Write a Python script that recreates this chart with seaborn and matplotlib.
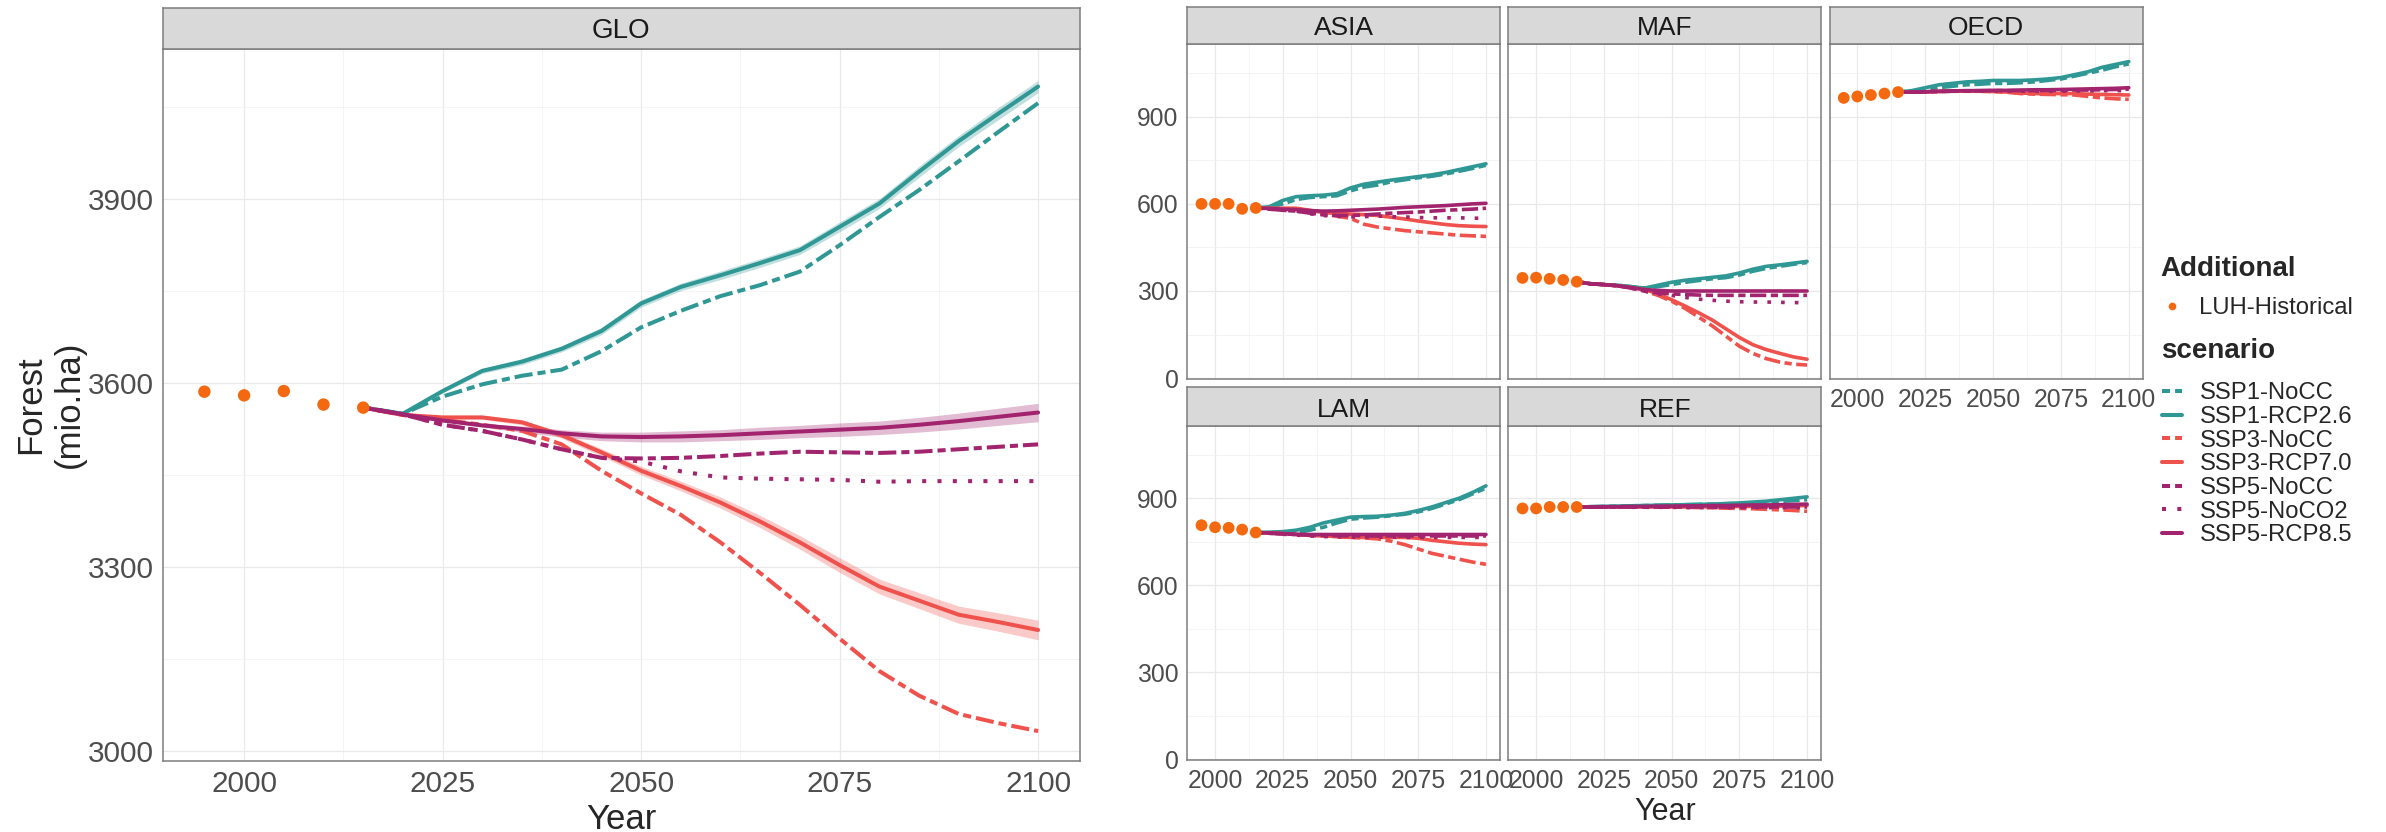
import numpy as np
import pandas as pd
import matplotlib
matplotlib.use("Agg")
import matplotlib.pyplot as plt
from matplotlib.lines import Line2D
import seaborn as sns

# ---------------- data ----------------
YEARS_HIST = [1995, 2000, 2005, 2010, 2015]
YEARS_SCEN = [2015, 2020, 2025, 2030, 2035, 2040, 2045, 2050, 2055, 2060,
              2065, 2070, 2075, 2080, 2085, 2090, 2095, 2100]
SCENARIOS = ["SSP1-NoCC", "SSP1-RCP2.6", "SSP3-NoCC", "SSP3-RCP7.0",
             "SSP5-NoCC", "SSP5-NoCO2", "SSP5-RCP8.5"]
SCEN_KEYS = ["SSP1_NOCC", "SSP1_RCP26", "SSP3_NOCC", "SSP3_RCP70",
             "SSP5_NOCC", "SSP5_NOCO2", "SSP5_RCP85"]
REGIONS = ["GLO", "ASIA", "MAF", "OECD", "LAM", "REF"]

GLO_HIST = [3586, 3580, 3587, 3565, 3560]
GLO_SSP1_NOCC = [3560, 3550, 3578, 3598, 3612, 3622, 3652, 3691, 3718, 3742, 3760, 3782, 3825, 3871, 3915, 3962, 4010, 4057]
GLO_SSP1_RCP26 = [3560, 3550, 3587, 3620, 3635, 3656, 3685, 3730, 3757, 3776, 3796, 3817, 3855, 3893, 3945, 3995, 4040, 4084]
GLO_SSP3_NOCC = [3560, 3548, 3540, 3532, 3522, 3500, 3457, 3420, 3385, 3340, 3290, 3238, 3183, 3130, 3090, 3060, 3045, 3032]
GLO_SSP3_RCP70 = [3560, 3548, 3544, 3544, 3536, 3515, 3487, 3457, 3432, 3405, 3374, 3340, 3303, 3268, 3245, 3222, 3210, 3197]
GLO_SSP5_NOCC = [3560, 3549, 3532, 3522, 3508, 3492, 3478, 3477, 3478, 3481, 3485, 3488, 3487, 3486, 3488, 3492, 3496, 3500]
GLO_SSP5_NOCO2 = [3560, 3549, 3532, 3522, 3508, 3492, 3478, 3472, 3456, 3446, 3444, 3443, 3442, 3439, 3440, 3440, 3440, 3440]
GLO_SSP5_RCP85 = [3560, 3549, 3539, 3531, 3525, 3518, 3513, 3512, 3513, 3515, 3518, 3521, 3524, 3527, 3532, 3538, 3545, 3552]

# half-width of the uncertainty ribbons around the RCP runs (GLO)
RIB_GLO_SSP1 = [0, 1, 3, 4, 5, 5, 6, 6, 6, 7, 7, 7, 8, 8, 9, 9, 10, 10]
RIB_GLO_SSP3 = [0, 1, 2, 3, 4, 5, 6, 7, 8, 9, 10, 11, 12, 12, 13, 14, 15, 16]
RIB_GLO_SSP5 = [0, 1, 2, 3, 5, 6, 7, 8, 9, 9, 10, 10, 11, 11, 12, 13, 14, 15]

ASIA_HIST = [600, 600, 600, 583, 586]
ASIA_SSP1_NOCC = [586, 588, 600, 615, 622, 625, 628, 645, 658, 665, 676, 683, 690, 695, 703, 712, 722, 733]
ASIA_SSP1_RCP26 = [586, 590, 612, 625, 628, 630, 635, 655, 668, 675, 682, 688, 694, 700, 708, 718, 728, 738]
ASIA_SSP3_NOCC = [586, 584, 582, 580, 572, 565, 558, 550, 530, 520, 514, 508, 504, 500, 496, 492, 490, 488]
ASIA_SSP3_RCP70 = [586, 585, 585, 585, 578, 570, 567, 565, 563, 560, 554, 548, 541, 535, 529, 525, 523, 522]
ASIA_SSP5_NOCC = [586, 582, 578, 575, 568, 562, 560, 560, 562, 565, 568, 570, 572, 575, 578, 580, 582, 585]
ASIA_SSP5_NOCO2 = [586, 582, 578, 575, 566, 560, 557, 555, 556, 558, 556, 555, 553, 552, 552, 552, 551, 550]
ASIA_SSP5_RCP85 = [586, 584, 582, 580, 577, 575, 576, 578, 580, 582, 585, 588, 590, 592, 594, 597, 600, 602]

MAF_HIST = [345, 346, 342, 338, 332]
MAF_SSP1_NOCC = [332, 325, 322, 320, 315, 310, 315, 322, 330, 336, 342, 346, 355, 368, 378, 385, 392, 398]
MAF_SSP1_RCP26 = [332, 325, 322, 320, 315, 310, 320, 330, 337, 342, 347, 352, 362, 375, 385, 390, 396, 402]
MAF_SSP3_NOCC = [332, 325, 322, 318, 312, 300, 285, 265, 240, 210, 180, 145, 110, 85, 67, 55, 48, 45]
MAF_SSP3_RCP70 = [332, 325, 322, 318, 312, 305, 290, 270, 248, 225, 200, 170, 140, 115, 98, 85, 73, 65]
MAF_SSP5_NOCC = [332, 325, 322, 318, 310, 300, 293, 290, 288, 286, 285, 285, 285, 285, 285, 285, 285, 285]
MAF_SSP5_NOCO2 = [332, 325, 322, 318, 310, 300, 290, 285, 278, 272, 268, 265, 263, 262, 262, 261, 260, 260]
MAF_SSP5_RCP85 = [332, 325, 322, 318, 312, 305, 302, 300, 300, 300, 300, 300, 300, 300, 300, 300, 300, 300]

OECD_HIST = [965, 970, 975, 980, 985]
OECD_SSP1_NOCC = [985, 988, 995, 1000, 1005, 1010, 1012, 1015, 1015, 1017, 1020, 1025, 1030, 1040, 1050, 1060, 1072, 1082]
OECD_SSP1_RCP26 = [985, 990, 1000, 1010, 1015, 1020, 1022, 1025, 1025, 1025, 1027, 1030, 1035, 1045, 1055, 1070, 1080, 1090]
OECD_SSP3_NOCC = [985, 985, 986, 987, 988, 988, 988, 987, 985, 980, 978, 977, 976, 975, 970, 965, 962, 960]
OECD_SSP3_RCP70 = [985, 985, 986, 987, 988, 988, 988, 987, 985, 982, 980, 980, 980, 980, 978, 977, 976, 975]
OECD_SSP5_NOCC = [985, 985, 986, 987, 988, 989, 990, 990, 990, 990, 990, 991, 991, 992, 992, 993, 994, 995]
OECD_SSP5_NOCO2 = [985, 985, 986, 987, 988, 988, 989, 989, 989, 988, 988, 988, 988, 989, 989, 990, 990, 990]
OECD_SSP5_RCP85 = [985, 985, 986, 988, 989, 990, 990, 991, 991, 992, 993, 993, 994, 995, 996, 997, 998, 1000]

LAM_HIST = [807, 800, 798, 792, 782]
LAM_SSP1_NOCC = [782, 780, 778, 780, 790, 800, 815, 828, 832, 835, 840, 845, 853, 865, 880, 895, 915, 935]
LAM_SSP1_RCP26 = [782, 783, 785, 790, 800, 815, 825, 835, 837, 838, 842, 848, 858, 870, 885, 900, 920, 943]
LAM_SSP3_NOCC = [782, 780, 778, 775, 772, 770, 768, 765, 763, 760, 752, 740, 725, 710, 700, 690, 680, 672]
LAM_SSP3_RCP70 = [782, 780, 778, 775, 772, 770, 768, 765, 765, 765, 765, 765, 762, 755, 750, 745, 742, 740]
LAM_SSP5_NOCC = [782, 780, 777, 775, 773, 772, 771, 770, 770, 770, 770, 770, 770, 770, 770, 770, 770, 770]
LAM_SSP5_NOCO2 = [782, 779, 776, 773, 770, 768, 767, 766, 766, 766, 766, 765, 765, 765, 765, 765, 765, 765]
LAM_SSP5_RCP85 = [782, 780, 778, 776, 775, 775, 775, 775, 775, 775, 775, 775, 775, 775, 775, 775, 775, 775]

REF_HIST = [865, 865, 870, 870, 870]
REF_SSP1_NOCC = [870, 871, 872, 873, 874, 875, 876, 877, 878, 879, 880, 881, 882, 884, 886, 889, 892, 895]
REF_SSP1_RCP26 = [870, 871, 872, 873, 874, 875, 876, 877, 878, 879, 880, 882, 884, 887, 890, 895, 900, 905]
REF_SSP3_NOCC = [870, 870, 870, 870, 870, 870, 870, 870, 869, 868, 867, 866, 865, 864, 862, 860, 858, 855]
REF_SSP3_RCP70 = [870, 870, 870, 870, 870, 870, 870, 870, 870, 870, 871, 871, 872, 872, 873, 873, 874, 875]
REF_SSP5_NOCC = [870, 870, 870, 870, 870, 870, 870, 870, 870, 870, 870, 870, 870, 870, 870, 870, 870, 870]
REF_SSP5_NOCO2 = [870, 870, 870, 870, 869, 869, 869, 869, 868, 868, 868, 868, 868, 868, 868, 868, 868, 868]
REF_SSP5_RCP85 = [870, 870, 871, 871, 872, 872, 873, 873, 874, 874, 875, 875, 876, 877, 877, 878, 879, 880]

# ---------------- styling ----------------
TEAL = "#2f9794"
RED = "#ef514c"
MAG = "#a2246e"
ORANGE = "#f4680f"
PALETTE = {"SSP1-NoCC": TEAL, "SSP1-RCP2.6": TEAL, "SSP3-NoCC": RED, "SSP3-RCP7.0": RED,
           "SSP5-NoCC": MAG, "SSP5-NoCO2": MAG, "SSP5-RCP8.5": MAG}
TWODASH = (2.0, 1.25, 4.5, 1.25)
DOTTED = (1.0, 2.8)
DASHES = {"SSP1-NoCC": TWODASH, "SSP1-RCP2.6": "", "SSP3-NoCC": TWODASH, "SSP3-RCP7.0": "",
          "SSP5-NoCC": TWODASH, "SSP5-NoCO2": DOTTED, "SSP5-RCP8.5": ""}

sns.set_style("white")
plt.rcParams["font.family"] = ["Liberation Sans", "DejaVu Sans"]

# ---------------- tables ----------------
rows = []
for reg in REGIONS:
    for scen, key in zip(SCENARIOS, SCEN_KEYS):
        vals = globals()[f"{reg}_{key}"]
        for yr, v in zip(YEARS_SCEN, vals):
            rows.append((reg, scen, yr, v))
df = pd.DataFrame(rows, columns=["region", "scenario", "year", "value"])

hrows = []
for reg in REGIONS:
    for yr, v in zip(YEARS_HIST, globals()[f"{reg}_HIST"]):
        hrows.append((reg, yr, v))
hist = pd.DataFrame(hrows, columns=["region", "year", "value"])

# ---------------- layout ----------------
W, H, DPI = 2386, 832, 100
fig = plt.figure(figsize=(W / DPI, H / DPI), dpi=DPI)
fig.patch.set_facecolor("white")


def rect(x0, x1, yt, yb):
    return [x0 / W, 1 - yb / H, (x1 - x0) / W, (yb - yt) / H]


BORDER = "#7d7d7d"
XLIM = (1989.75, 2105.25)
X_MAJOR = [2000, 2025, 2050, 2075, 2100]
X_MINOR = [2012.5, 2037.5, 2062.5, 2087.5]


def style_panel(ax, ylim, y_major, y_minor, fs, show_x, show_y):
    ax.set_xlim(*XLIM)
    ax.set_ylim(*ylim)
    ax.set_xticks(X_MAJOR)
    ax.set_xticks(X_MINOR, minor=True)
    ax.set_yticks(y_major)
    ax.set_yticks(y_minor, minor=True)
    ax.grid(which="major", color="#e9e9e9", lw=0.9)
    ax.grid(which="minor", color="#f2f2f2", lw=0.6)
    ax.set_axisbelow(True)
    ax.tick_params(which="minor", length=0)
    ax.tick_params(which="major", length=2.9, width=1.0, color=BORDER,
                   labelsize=fs, labelcolor="#4d4d4d")
    ax.tick_params(axis="x", pad=4.0)
    ax.tick_params(axis="y", pad=3.3)
    if not show_x:
        ax.tick_params(axis="x", which="both", length=0, labelbottom=False)
    if not show_y:
        ax.tick_params(axis="y", which="both", length=0, labelleft=False)
    for sp in ax.spines.values():
        sp.set_color(BORDER)
        sp.set_linewidth(1.1)
    ax.set_xlabel("")
    ax.set_ylabel("")
    ax.set_facecolor("white")


def strip(x0, x1, yt, yb, label, fs, base):
    s = fig.add_axes(rect(x0, x1, yt, yb))
    s.set_facecolor("#d9d9d9")
    s.set_xticks([])
    s.set_yticks([])
    for sp in s.spines.values():
        sp.set_color(BORDER)
        sp.set_linewidth(1.1)
    s.text(0.5, base, label, ha="center", va="baseline", fontsize=fs,
           color="#1a1a1a", transform=s.transAxes)


def draw(ax, reg, lw, ms, ribbons=None):
    d = df[df["region"] == reg]
    if ribbons:
        for scen, half in ribbons:
            v = np.array(d[d["scenario"] == scen]["value"], dtype=float)
            h = np.array(half, dtype=float)
            ax.fill_between(YEARS_SCEN, v - h, v + h, color=PALETTE[scen],
                            alpha=0.3, lw=0, zorder=1.5)
    sns.lineplot(data=d, x="year", y="value", hue="scenario", style="scenario",
                 hue_order=SCENARIOS, style_order=SCENARIOS, palette=PALETTE,
                 dashes=DASHES, linewidth=lw, legend=False, ax=ax,
                 estimator=None, errorbar=None, sort=False, zorder=2)
    sns.scatterplot(data=hist[hist["region"] == reg], x="year", y="value",
                    color=ORANGE, s=ms, edgecolor="none", ax=ax, legend=False,
                    zorder=3)


# GLO panel
ax_g = fig.add_axes(rect(162.7, 1079.8, 48.7, 760.7))
draw(ax_g, "GLO", 2.9, 80, ribbons=[("SSP1-RCP2.6", RIB_GLO_SSP1),
                                    ("SSP3-RCP7.0", RIB_GLO_SSP3),
                                    ("SSP5-RCP8.5", RIB_GLO_SSP5)])
style_panel(ax_g, (2983.7, 4145.8), [3000, 3300, 3600, 3900],
            [3150, 3450, 3750, 4050], 21.4, True, True)
strip(162.7, 1079.8, 8.3, 48.7, "GLO", 20, 0.26)
fig.text(621 / W, 1 - 829 / H, "Year", ha="center", va="baseline", fontsize=25)
fig.text(50 / W, 1 - 404.7 / H, "Forest\n(mio.ha)", rotation=90, ha="center",
         va="center", multialignment="center", fontsize=25)

# regional panels
COLS = [(1187.3, 1500.2), (1508.3, 1821.3), (1829.5, 2143.0)]
ROWS = [(6.7, 44.3, 378.8), (387.3, 426.0, 759.7)]
LAYOUT = [("ASIA", 0, 0), ("MAF", 0, 1), ("OECD", 0, 2), ("LAM", 1, 0), ("REF", 1, 1)]
for reg, r, c in LAYOUT:
    x0, x1 = COLS[c]
    st, sb, pb = ROWS[r]
    ax = fig.add_axes(rect(x0, x1, sb, pb))
    draw(ax, reg, 2.6, 72)
    show_x = (r == 1) or (reg == "OECD")
    style_panel(ax, (-2.4, 1149.6), [0, 300, 600, 900], [150, 450, 750, 1050],
                17.8, show_x, c == 0)
    strip(x0, x1, st, sb, reg, 19, 0.24)
fig.text(1665 / W, 1 - 820 / H, "Year", ha="center", va="baseline", fontsize=22)

# legends
LEG_FS = 17.2
fig.text(2160.7 / W, 1 - 276 / H, "Additional", fontweight="bold", fontsize=20,
         va="baseline", ha="left")
fig.text(2160.7 / W, 1 - 358.3 / H, "scenario", fontweight="bold", fontsize=20,
         va="baseline", ha="left")
h1 = [Line2D([], [], ls="none", marker="o", color=ORANGE, ms=5.5, mec="none")]
fig.legend(h1, ["LUH-Historical"], loc="center left",
           bbox_to_anchor=(2161.7 / W, 1 - 308 / H), frameon=False,
           fontsize=LEG_FS, handlelength=0.86, handletextpad=0.72,
           borderpad=0, borderaxespad=0)
h2 = []
for s in SCENARIOS:
    ls = "-" if DASHES[s] == "" else (0, DASHES[s])
    h2.append(Line2D([], [], color=PALETTE[s], lw=2.9, linestyle=ls))
fig.legend(h2, SCENARIOS, loc="center left",
           bbox_to_anchor=(2161.7 / W, 1 - 464.3 / H), frameon=False,
           fontsize=LEG_FS, handlelength=0.86, handletextpad=0.72,
           labelspacing=0.07, borderpad=0, borderaxespad=0)

fig.savefig("out.png", dpi=DPI)
